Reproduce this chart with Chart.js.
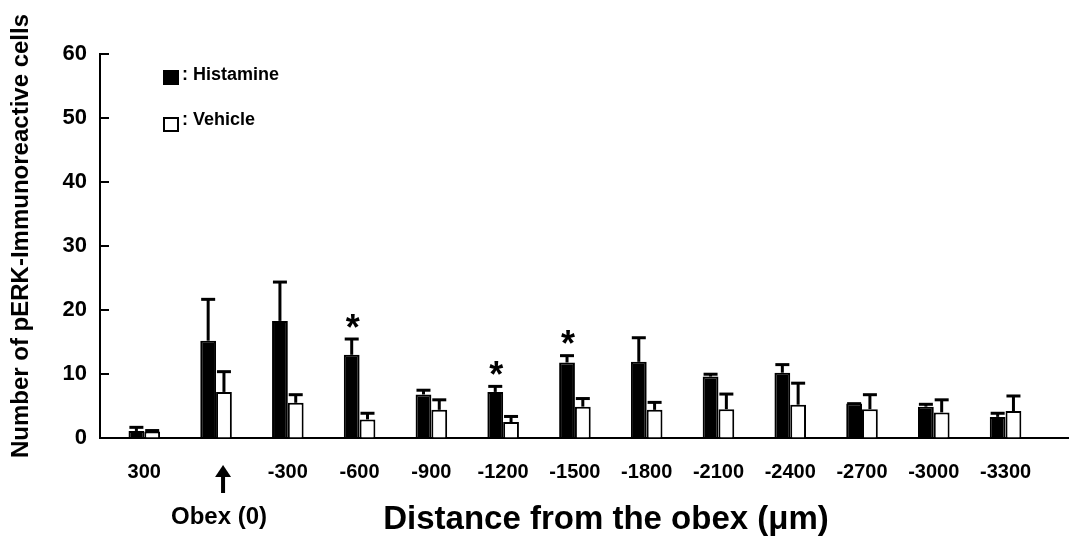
<!DOCTYPE html>
<html>
<head>
<meta charset="utf-8">
<script src="https://cdn.jsdelivr.net/npm/chart.js@4.4.1/dist/chart.umd.min.js"></script>
<style>
  html, body { margin: 0; padding: 0; background: #fff; }
  #wrap { width: 1073px; height: 546px; position: relative; }
</style>
</head>
<body>
<div id="wrap"><canvas id="chartPerk"></canvas></div>
<script>
// distance from the obex (um), one group of bars per position
const distances = ['300', '0', '-300', '-600', '-900', '-1200', '-1500', '-1800', '-2100', '-2400', '-2700', '-3000', '-3300'];
const tickLabels = ['300', '', '-300', '-600', '-900', '-1200', '-1500', '-1800', '-2100', '-2400', '-2700', '-3000', '-3300'];

const histamine    = [1.1, 15.2, 18.3, 13.0, 6.8, 7.2, 11.8, 11.9, 9.6, 10.2, 5.4, 4.9, 3.3];
const histamineSem = [0.8, 6.7, 6.3, 2.7, 0.9, 1.1, 1.3, 4.0, 0.6, 1.5, 0.2, 0.6, 0.8];
const vehicle      = [1.0, 7.2, 5.5, 2.9, 4.4, 2.5, 4.9, 4.4, 4.5, 5.2, 4.5, 4.0, 4.2];
const vehicleSem   = [0.4, 3.4, 1.5, 1.2, 1.8, 1.1, 1.5, 1.4, 2.6, 3.6, 2.5, 2.2, 2.6];
const significant  = ['-600', '-1200', '-1500'];   // marked with *

const FONT = '"Liberation Sans", Arial, Helvetica, sans-serif';

// error bars, asterisks, legend, obex arrow and axis titles
const extras = {
    id: 'extras',
    afterDatasetsDraw(chart) {
        const ctx = chart.ctx;
        const yScale = chart.scales.y;
        const sems = [histamineSem, vehicleSem];
        ctx.save();
        ctx.strokeStyle = '#000';
        ctx.lineWidth = 3;
        chart.data.datasets.forEach((ds, d) => {
            chart.getDatasetMeta(d).data.forEach((bar, i) => {
                const top = yScale.getPixelForValue(ds.data[i].y + sems[d][i]);
                ctx.beginPath();
                ctx.moveTo(bar.x, bar.y);
                ctx.lineTo(bar.x, top + 1.5);
                ctx.stroke();
                ctx.beginPath();
                ctx.moveTo(bar.x - 7, top + 1.5);
                ctx.lineTo(bar.x + 7, top + 1.5);
                ctx.stroke();
            });
        });

        // significance stars above the histamine bars
        ctx.fillStyle = '#000';
        ctx.font = 'bold 36px ' + FONT;
        ctx.textAlign = 'center';
        ctx.textBaseline = 'alphabetic';
        const m = ctx.measureText('*');
        const metaH = chart.getDatasetMeta(0);
        significant.forEach(lbl => {
            const i = distances.indexOf(lbl);
            const bar = metaH.data[i];
            const top = yScale.getPixelForValue(histamine[i] + histamineSem[i]);
            const cy = top - 17;
            ctx.fillText('*', bar.x + 1, cy + (m.actualBoundingBoxAscent - m.actualBoundingBoxDescent) / 2);
        });
        ctx.restore();
    },
    afterDraw(chart) {
        const ctx = chart.ctx;
        const area = chart.chartArea;
        const yScale = chart.scales.y;
        const xScale = chart.scales.x;
        ctx.save();

        // inward tick marks on the y axis
        ctx.strokeStyle = '#000';
        ctx.lineWidth = 2;
        yScale.ticks.forEach((t, i) => {
            const py = Math.round(yScale.getPixelForTick(i));
            ctx.beginPath();
            ctx.moveTo(area.left, py);
            ctx.lineTo(area.left + 9, py);
            ctx.stroke();
        });

        // legend
        const ds = chart.data.datasets;
        ctx.fillStyle = '#000';
        ctx.fillRect(163, 70, 16, 15);
        ctx.fillStyle = '#fff';
        ctx.fillRect(164, 118, 14, 13);
        ctx.strokeStyle = '#000';
        ctx.lineWidth = 2;
        ctx.strokeRect(164, 118, 14, 13);
        ctx.fillStyle = '#000';
        ctx.font = 'bold 18px ' + FONT;
        ctx.textAlign = 'left';
        ctx.textBaseline = 'alphabetic';
        ctx.fillText(': ' + ds[0].label, 182, 80);
        ctx.fillText(': ' + ds[1].label, 182, 125);

        // obex arrow under the 0 position
        const ox = xScale.getPixelForValue(distances.indexOf('0')) + 7;
        ctx.beginPath();
        ctx.moveTo(ox, 465);
        ctx.lineTo(ox - 8, 477);
        ctx.lineTo(ox + 8, 477);
        ctx.closePath();
        ctx.fill();
        ctx.fillRect(ox - 2, 476, 4, 17);
        ctx.font = 'bold 24px ' + FONT;
        ctx.textAlign = 'center';
        ctx.fillText('Obex (0)', ox - 4, 524);

        // x axis title
        ctx.font = 'bold 33px ' + FONT;
        ctx.fillText('Distance from the obex (\u03bcm)', (area.left + area.right) / 2 + 22, 529);

        // y axis title
        ctx.translate(28, 236);
        ctx.rotate(-Math.PI / 2);
        ctx.font = 'bold 24px ' + FONT;
        ctx.fillText('Number of pERK-Immunoreactive cells', 0, 0);
        ctx.restore();
    }
};

document.addEventListener('DOMContentLoaded', () => {
    const ctxPerk = document.getElementById('chartPerk');
    new Chart(ctxPerk, {
        type: 'bar',
        data: {
            datasets: [{
                label: 'Histamine',
                data: histamine.map((v, i) => ({ x: i, y: v })),
                backgroundColor: '#000',
                borderColor: '#000',
                borderWidth: 2
            }, {
                label: 'Vehicle',
                data: vehicle.map((v, i) => ({ x: i, y: v })),
                backgroundColor: '#fff',
                borderColor: '#000',
                borderWidth: 2
            }]
        },
        options: {
            responsive: true,
            maintainAspectRatio: false,
            animation: false,
            categoryPercentage: 0.44,
            barPercentage: 1.0,
            layout: { padding: { top: 54, right: 5, left: 0, bottom: 0 } },
            plugins: {
                legend: { display: false },
                tooltip: { enabled: false }
            },
            scales: {
                x: {
                    type: 'linear',
                    offset: false,
                    min: -0.617,
                    max: 12.87,
                    grid: { drawOnChartArea: false, drawTicks: false, offset: false },
                    border: { display: true, color: '#000', width: 2 },
                    ticks: {
                        stepSize: 1,
                        includeBounds: false,
                        autoSkip: false,
                        maxRotation: 0,
                        padding: 22,
                        color: '#000',
                        font: { family: FONT, size: 20, weight: 'bold' },
                        callback: (v) => tickLabels[v] ?? ''
                    },
                    afterFit: (s) => { s.height = 108; }
                },
                y: {
                    min: 0,
                    max: 60,
                    grid: { drawOnChartArea: false, drawTicks: false },
                    border: { display: true, color: '#000', width: 2 },
                    ticks: {
                        stepSize: 10,
                        padding: 13,
                        color: '#000',
                        font: { family: FONT, size: 22, weight: 'bold' }
                    },
                    afterFit: (s) => { s.width = 100; }
                }
            }
        },
        plugins: [extras]
    });
});
</script>
</body>
</html>
